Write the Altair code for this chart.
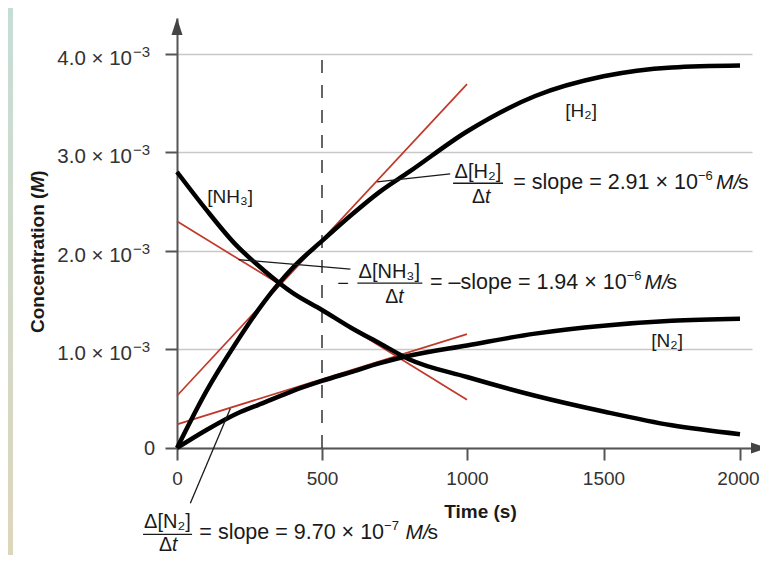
import altair as alt
import pandas as pd

# ---------------- data (concentrations in units of 10^-3 M) ----------------
time_s = [0, 100, 200, 300, 400, 500, 600, 700, 800, 1000, 1250, 1500, 1750, 2000]
nh3 = [2.80, 2.42, 2.07, 1.80, 1.57, 1.40, 1.22, 1.06, 0.90, 0.72, 0.53, 0.37, 0.23, 0.14]
n2 = [0.00, 0.18, 0.34, 0.46, 0.58, 0.68, 0.77, 0.86, 0.935, 1.04, 1.16, 1.24, 1.29, 1.31]
h2 = [0.00, 0.57, 1.05, 1.48, 1.83, 2.10, 2.36, 2.60, 2.80, 3.21, 3.57, 3.77, 3.86, 3.88]

# tangent lines at t = 500 s (drawn from t = 0 to t = 1000 s)
tan_species = ["H2", "NH3", "N2"]
tan_t0 = [0, 0, 0]
tan_t1 = [1000, 1000, 1000]
tan_c0 = [0.53, 2.30, 0.24]
tan_c1 = [3.69, 0.49, 1.155]

# leader lines from the tangents to the slope labels
ptr_t0 = [690, 212, 184]
ptr_c0 = [2.70, 1.91, 0.40]
ptr_t1 = [942, 598, 46]
ptr_c1 = [2.78, 1.815, -0.56]

# fraction bars of the three rate expressions
bar_t0 = [952, 622, -117]
bar_t1 = [1132, 846, 52]
bar_c = [2.685, 1.673, -0.877]

x_ticks = [0, 500, 1000, 1500, 2000]
y_ticks = [0, 1, 2, 3, 4]
y_tick_main = ["1.0 × 10", "2.0 × 10", "3.0 × 10", "4.0 × 10"]
y_tick_vals = [1, 2, 3, 4]
y_tick_sup = ["−3", "−3", "−3", "−3"]

# text annotations (text, t, c)
center_txt = ["Δ[H₂]", "Δ[NH₃]", "Δ[N₂]", "−"]
center_t = [1040, 732, -33, 573]
center_c = [2.738, 1.724, -0.816, 1.598]

label_txt = ["[NH₃]", "[H₂]", "[N₂]"]
label_t = [183, 1418, 1733]
label_c = [2.485, 3.354, 1.027]

eq_txt = ["= slope = 2.91 × 10", "= –slope = 1.94 × 10", "= slope = 9.70 × 10"]
eq_t = [1846, 1585, 714]
eq_c = [2.627, 1.610, -0.926]
sup_txt = ["−6", "−6", "−7"]
sup_c = [2.718, 1.701, -0.835]
unit_t = [1912, 1650, 788]
unit_s_t = [1993, 1731, 864]

den_t = [1066, 763, -17]
den_c = [2.485, 1.471, -1.040]

FONT = "Liberation Sans"
INK = "#1a1a1a"
RED = "#c0392b"
AXIS = "#555555"

XS = alt.Scale(domain=[0, 1000, 2000, 2044], range=[0, 290, 563, 575], nice=False, zero=False)
YS = alt.Scale(domain=[0, 4.361], nice=False, zero=False)


def X(f):
    return alt.X(f, type="quantitative", scale=XS)


def Y(f):
    return alt.Y(f, type="quantitative", scale=YS)


curves = pd.DataFrame(
    {
        "t": time_s * 3,
        "c": nh3 + n2 + h2,
        "s": ["NH3"] * len(time_s) + ["N2"] * len(time_s) + ["H2"] * len(time_s),
    }
)

axes_layer = (
    alt.Chart(pd.DataFrame({"t": [0], "c": [0]}))
    .mark_point(opacity=0)
    .encode(
        x=alt.X(
            "t:Q",
            scale=XS,
            axis=alt.Axis(
                values=x_ticks,
                format="d",
                title="Time (s)",
                titleFont=FONT,
                titleFontSize=19,
                titleFontWeight="bold",
                titleColor=INK,
                titleX=303,
                titleY=69,
                titleBaseline="alphabetic",
                titleAlign="center",
                labelFont=FONT,
                labelFontSize=19,
                labelColor="#333333",
                labelPadding=9,
                labelFlush=False,
                labelOverlap=False,
                labelOffset={"condition": {"test": "datum.value === 2000", "value": -2}, "value": 0},
                tickSize=12,
                tickColor=AXIS,
                tickWidth=2,
                domainColor=AXIS,
                domainWidth=2,
                grid=False,
            ),
        ),
        y=alt.Y(
            "c:Q",
            scale=YS,
            axis=alt.Axis(
                values=y_ticks,
                title=None,
                labels=False,
                tickSize=12,
                tickColor=AXIS,
                tickWidth=2,
                domainColor=AXIS,
                domainWidth=2,
                grid=True,
                gridColor="#c8c8c8",
                gridWidth=1.5,
            ),
        ),
    )
)

strip = (
    alt.Chart(pd.DataFrame({"a": [0]}))
    .mark_rect(
        fill=alt.Gradient(
            gradient="linear",
            stops=[
                alt.GradientStop(color="#c6ddd7", offset=0),
                alt.GradientStop(color="#ddd6bb", offset=1),
            ],
            x1=0, x2=0, y1=0, y2=1,
        )
    )
    .encode(x=alt.value(-169), x2=alt.value(-164), y=alt.value(-10), y2=alt.value(537))
)

dashed = (
    alt.Chart(pd.DataFrame({"t": [500], "c0": [0], "c1": [3.98]}))
    .mark_rule(color="#333333", strokeWidth=1.5, strokeDash=[13, 12])
    .encode(x=X("t"), y=Y("c0"), y2="c1")
)

lines = (
    alt.Chart(curves)
    .mark_line(color="black", strokeWidth=4.5, interpolate="monotone", strokeCap="butt")
    .encode(x=X("t"), y=Y("c"), detail="s:N")
)

tangents = (
    alt.Chart(pd.DataFrame({"s": tan_species, "t0": tan_t0, "t1": tan_t1, "c0": tan_c0, "c1": tan_c1}))
    .mark_rule(color=RED, strokeWidth=1.7)
    .encode(x=X("t0"), x2="t1", y=Y("c0"), y2="c1")
)

pointers = (
    alt.Chart(pd.DataFrame({"t0": ptr_t0, "t1": ptr_t1, "c0": ptr_c0, "c1": ptr_c1}))
    .mark_rule(color=INK, strokeWidth=1.3)
    .encode(x=X("t0"), x2="t1", y=Y("c0"), y2="c1")
)

bars = (
    alt.Chart(pd.DataFrame({"t0": bar_t0, "t1": bar_t1, "c": bar_c}))
    .mark_rule(color=INK, strokeWidth=1.3)
    .encode(x=X("t0"), x2="t1", y=Y("c"))
)

arrows = (
    alt.Chart(pd.DataFrame({"t": [0, 2071.5], "c": [4.275, 0], "shape": ["up", "right"]}))
    .mark_point(filled=True, color="#444444", opacity=1, size=289)
    .encode(
        x=X("t"),
        y=Y("c"),
        shape=alt.Shape(
            "shape:N",
            scale=alt.Scale(
                domain=["up", "right"],
                range=["M0,-1L0.65,1L-0.65,1Z", "M1,0L-1,0.65L-1,-0.65Z"],
            ),
            legend=None,
        ),
    )
)

ytick_main = (
    alt.Chart(pd.DataFrame({"v": y_tick_vals, "txt": y_tick_main}))
    .mark_text(align="right", baseline="alphabetic", font=FONT, fontSize=20.5, color="#333333", dy=11)
    .encode(y=Y("v"), x=alt.value(-45), text="txt:N")
)
ytick_sup = (
    alt.Chart(pd.DataFrame({"v": y_tick_vals, "txt": y_tick_sup}))
    .mark_text(align="left", baseline="alphabetic", font=FONT, fontSize=15, color="#333333", dy=3)
    .encode(y=Y("v"), x=alt.value(-44), text="txt:N")
)
ytick_zero = (
    alt.Chart(pd.DataFrame({"v": [0], "txt": ["0"]}))
    .mark_text(align="right", baseline="middle", font=FONT, fontSize=20, color="#333333", dy=1)
    .encode(y=Y("v"), x=alt.value(-22), text="txt:N")
)

ytitle_a = (
    alt.Chart(pd.DataFrame({"txt": ["Concentration ("]}))
    .mark_text(align="right", baseline="alphabetic", angle=270, font=FONT, fontSize=19, fontWeight="bold", color=INK)
    .encode(x=alt.value(-133), y=alt.value(174.6), text="txt:N")
)
ytitle_m = (
    alt.Chart(pd.DataFrame({"txt": ["M"]}))
    .mark_text(align="left", baseline="alphabetic", angle=270, font=FONT, fontSize=19, fontWeight="bold", fontStyle="italic", color=INK)
    .encode(x=alt.value(-133), y=alt.value(174.6), text="txt:N")
)
ytitle_b = (
    alt.Chart(pd.DataFrame({"txt": [")"]}))
    .mark_text(align="left", baseline="alphabetic", angle=270, font=FONT, fontSize=19, fontWeight="bold", color=INK)
    .encode(x=alt.value(-133), y=alt.value(158.8), text="txt:N")
)

num_text = (
    alt.Chart(pd.DataFrame({"txt": center_txt, "t": center_t, "c": center_c}))
    .mark_text(align="center", baseline="alphabetic", font=FONT, fontSize=20, color=INK)
    .encode(x=X("t"), y=Y("c"), text="txt:N")
)
species_text = (
    alt.Chart(pd.DataFrame({"txt": label_txt, "t": label_t, "c": label_c}))
    .mark_text(align="center", baseline="alphabetic", font=FONT, fontSize=19, color=INK)
    .encode(x=X("t"), y=Y("c"), text="txt:N")
)
den_delta = (
    alt.Chart(pd.DataFrame({"txt": ["Δ"] * 3, "t": den_t, "c": den_c}))
    .mark_text(align="right", baseline="alphabetic", font=FONT, fontSize=19.5, color=INK)
    .encode(x=X("t"), y=Y("c"), text="txt:N")
)
den_t_italic = (
    alt.Chart(pd.DataFrame({"txt": ["t"] * 3, "t": den_t, "c": den_c}))
    .mark_text(align="left", baseline="alphabetic", font=FONT, fontSize=19.5, fontStyle="italic", color=INK)
    .encode(x=X("t"), y=Y("c"), text="txt:N")
)
eq_text = (
    alt.Chart(pd.DataFrame({"txt": eq_txt, "t": eq_t, "c": eq_c}))
    .mark_text(align="right", baseline="alphabetic", font=FONT, fontSize=21.5, color=INK)
    .encode(x=X("t"), y=Y("c"), text="txt:N")
)
sup_text = (
    alt.Chart(pd.DataFrame({"txt": sup_txt, "t": eq_t, "c": sup_c}))
    .mark_text(align="left", baseline="alphabetic", font=FONT, fontSize=13, color=INK)
    .encode(x=X("t"), y=Y("c"), text="txt:N")
)
unit_m = (
    alt.Chart(pd.DataFrame({"txt": ["M/"] * 3, "t": unit_t, "c": eq_c}))
    .mark_text(align="left", baseline="alphabetic", font=FONT, fontSize=21, fontStyle="italic", color=INK)
    .encode(x=X("t"), y=Y("c"), text="txt:N")
)
unit_s = (
    alt.Chart(pd.DataFrame({"txt": ["s"] * 3, "t": unit_s_t, "c": eq_c}))
    .mark_text(align="left", baseline="alphabetic", font=FONT, fontSize=21, color=INK)
    .encode(x=X("t"), y=Y("c"), text="txt:N")
)

chart = (
    alt.layer(
        axes_layer,
        strip,
        dashed,
        tangents,
        lines,
        pointers,
        bars,
        arrows,
        ytick_main,
        ytick_sup,
        ytick_zero,
        ytitle_a,
        ytitle_m,
        ytitle_b,
        num_text,
        species_text,
        den_delta,
        den_t_italic,
        eq_text,
        sup_text,
        unit_m,
        unit_s,
    )
    .properties(
        width=575,
        height=430,
        padding={"left": 169, "top": 10, "right": 8, "bottom": 107},
        autosize=alt.AutoSizeParams(type="none"),
        background="white",
    )
    .configure_view(stroke=None)
)

chart.save("out.html", embed_options={"renderer": "svg", "actions": False})
